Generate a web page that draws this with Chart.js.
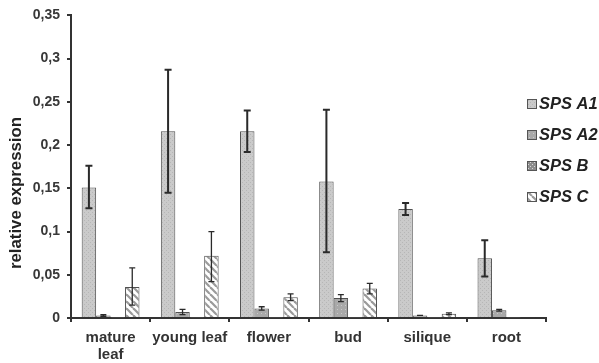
<!DOCTYPE html>
<html>
<head>
<meta charset="utf-8">
<script src="https://cdn.jsdelivr.net/npm/chart.js@4/dist/chart.umd.min.js"></script>
<style>
  html, body { margin: 0; padding: 0; background: #fff; }
  #wrap { width: 599px; height: 363px; position: relative; }
</style>
</head>
<body>
<div id="wrap"><canvas id="c" width="599" height="363"></canvas></div>
<script>
// Tissues on the x axis
const categories = [["mature", "leaf"], "young leaf", "flower", "bud", "silique", "root"];
const seriesNames = ["SPS A1", "SPS A2", "SPS B", "SPS C"];
const yTitle = "relative expression";

// Mean relative expression per tissue
const spsA1 = [0.151, 0.216, 0.216, 0.158, 0.126, 0.069];
const spsA2 = [0.003, 0.007, 0.011, 0.023, 0.003, 0.009];
const spsB  = [0.0006, 0.0006, 0.0006, 0.0006, 0.0006, 0.0006];
const spsC  = [0.036, 0.072, 0.024, 0.034, 0.005, 0.001];

// Error bar ends (upper / lower)
const spsA1Hi = [0.176, 0.287, 0.240, 0.241, 0.133, 0.090];
const spsA1Lo = [0.127, 0.145, 0.192, 0.076, 0.119, 0.048];
const spsA2Hi = [0.004, 0.010, 0.013, 0.027, 0.003, 0.010];
const spsA2Lo = [0.002, 0.004, 0.009, 0.019, 0.003, 0.008];
const spsCHi  = [0.058, 0.100, 0.028, 0.040, 0.006, null];
const spsCLo  = [0.015, 0.042, 0.020, 0.028, 0.004, null];

// Y axis ticks
const yTicks = [0, 0.05, 0.1, 0.15, 0.2, 0.25, 0.3, 0.35];

const FONT = '"Liberation Sans", Arial, sans-serif';

function makePattern(size, paint) {
  const cv = document.createElement('canvas');
  cv.width = size; cv.height = size;
  const g = cv.getContext('2d');
  paint(g, size);
  return g.createPattern(cv, 'repeat');
}
const ctx = document.getElementById('c').getContext('2d');

const fillA1 = makePattern(4, (g, s) => {
  g.fillStyle = '#cacaca'; g.fillRect(0, 0, s, s);
  g.fillStyle = '#b6b6b6'; g.fillRect(0, 0, 1, 1); g.fillRect(2, 2, 1, 1);
});
const fillA2 = makePattern(4, (g, s) => {
  g.fillStyle = '#a9a9a9'; g.fillRect(0, 0, s, s);
  g.fillStyle = '#c9c9c9'; g.fillRect(1, 1, 1, 1);
});
const fillB = makePattern(4, (g, s) => {
  g.fillStyle = '#8c8c8c'; g.fillRect(0, 0, s, s);
  g.fillStyle = '#d8d8d8'; g.fillRect(0, 0, 1, 1); g.fillRect(2, 2, 1, 1);
});
const fillC = makePattern(7, (g, s) => {
  g.fillStyle = '#ffffff'; g.fillRect(0, 0, s, s);
  g.strokeStyle = '#9a9a9a'; g.lineWidth = 2.2;
  for (let k = -1; k <= 1; k++) {
    g.beginPath();
    g.moveTo(k * s, 0); g.lineTo(k * s + s, s);
    g.stroke();
  }
});

// Draws whiskers for datasets that carry errHi / errLo arrays
const errorBars = {
  id: 'errorBars',
  afterDatasetsDraw(chart) {
    const c = chart.ctx;
    const y = chart.scales.y;
    chart.data.datasets.forEach((ds, di) => {
      if (!ds.errHi) return;
      const meta = chart.getDatasetMeta(di);
      meta.data.forEach((bar, i) => {
        const hi = ds.errHi[i], lo = ds.errLo[i];
        if (hi == null || lo == null) return;
        const x = bar.x;
        const yh = y.getPixelForValue(hi), yl = y.getPixelForValue(lo);
        c.save();
        c.strokeStyle = '#2a2a2a';
        c.lineWidth = ds.errWidth;
        c.beginPath();
        c.moveTo(x, yh); c.lineTo(x, yl);
        const cw = ds.capHalf;
        c.moveTo(x - cw, yh); c.lineTo(x + cw, yh);
        c.moveTo(x - cw, yl); c.lineTo(x + cw, yl);
        c.stroke();
        c.restore();
      });
    });
  }
};

// Legend at the right of the plot and the rotated y-axis title
const sideText = {
  id: 'sideText',
  afterDraw(chart) {
    const c = chart.ctx;
    c.save();
    chart.data.datasets.forEach((ds, i) => {
      const cy = 104 + i * 31;
      c.fillStyle = ds.backgroundColor;
      c.fillRect(527, cy - 5, 9, 9);
      c.strokeStyle = '#555';
      c.lineWidth = 1;
      c.strokeRect(527.5, cy - 4.5, 9, 9);
      c.fillStyle = '#222';
      c.font = 'italic bold 16.5px ' + FONT;
      c.textBaseline = 'middle';
      c.textAlign = 'left';
      c.fillText(ds.label, 539, cy);
    });
    c.translate(16.5, 193);
    c.rotate(-Math.PI / 2);
    c.fillStyle = '#222';
    c.font = 'bold 16.8px ' + FONT;
    c.textAlign = 'center';
    c.textBaseline = 'middle';
    c.fillText(yTitle, 0, 0);
    c.restore();
  }
};

const fills = [fillA1, fillA2, fillB, fillC];
const values = [spsA1, spsA2, spsB, spsC];
const his = [spsA1Hi, spsA2Hi, null, spsCHi];
const los = [spsA1Lo, spsA2Lo, null, spsCLo];

const datasets = seriesNames.map((name, i) => ({
  label: name,
  data: values[i],
  backgroundColor: fills[i],
  borderColor: '#505050',
  borderWidth: 1,
  errHi: his[i],
  errLo: los[i],
  errWidth: i === 0 ? 2 : 1.3,
  capHalf: i === 0 ? 3.5 : 3
}));

new Chart(ctx, {
  type: 'bar',
  data: { labels: categories, datasets },
  plugins: [errorBars, sideText],
  options: {
    responsive: false,
    animation: false,
    devicePixelRatio: 1,
    layout: { padding: { top: 14, right: 53, left: 0, bottom: 0 } },
    datasets: { bar: { categoryPercentage: 0.73, barPercentage: 1 } },
    plugins: { legend: { display: false }, tooltip: { enabled: false } },
    scales: {
      x: {
        grid: { display: true, drawOnChartArea: false, offset: true, tickLength: 4, color: '#333', lineWidth: 2 },
        border: { display: true, color: '#333', width: 2 },
        ticks: {
          color: '#333', padding: 8, maxRotation: 0, autoSkip: false,
          font: { family: FONT, size: 15, weight: 'bold', lineHeight: 1.1 }
        },
        afterFit(s) { s.height = 45; }
      },
      y: {
        min: 0, max: 0.35,
        afterBuildTicks(s) { s.ticks = yTicks.map(v => ({ value: v })); },
        grid: { display: true, drawOnChartArea: false, tickLength: 4, color: '#333', lineWidth: 2 },
        border: { display: true, color: '#333', width: 2 },
        ticks: {
          color: '#383838', padding: 7,
          font: { family: FONT, size: 14, weight: 'bold' },
          callback: v => String(Math.round(v * 100) / 100).replace('.', ',')
        },
        afterFit(s) { s.width = 71; }
      }
    }
  }
});
</script>
</body>
</html>
